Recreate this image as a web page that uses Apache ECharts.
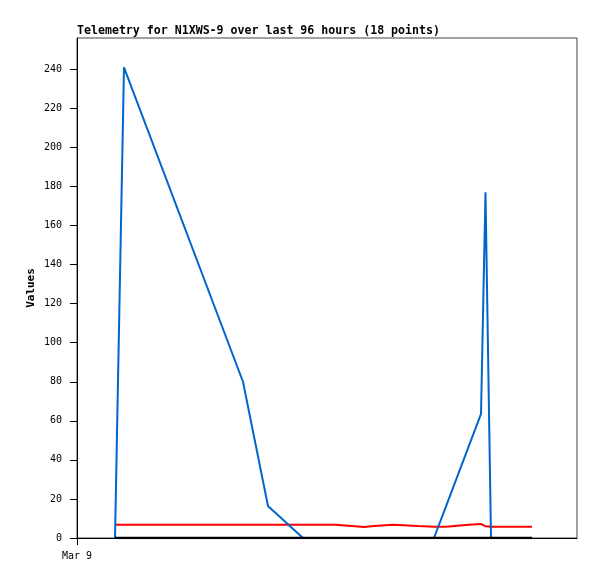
<!DOCTYPE html>
<html>
<head>
<meta charset="utf-8">
<script src="https://cdn.jsdelivr.net/npm/echarts@6/dist/echarts.min.js"></script>
<style>html,body{margin:0;padding:0;background:#fff;}#c{width:597px;height:579px;}</style>
</head>
<body>
<div id="c"></div>
<script>
// Hours since Mar 9 00:00
var hours = [7.30, 9.02, 31.87, 36.67, 43.39, 49.54, 52.80, 55.10, 57.02, 60.67, 65.47, 68.54, 70.85, 75.26, 77.57, 78.43, 79.49, 87.36];
var blueValues = [0, 241, 80, 16.4, 0, 0, 0, 0, 0, 0, 0, 0, 16.2, 47.3, 63.5, 177, 0, 0];
var redValues = [6.8, 6.8, 6.8, 6.8, 6.8, 6.8, 6.1, 5.6, 6.1, 6.8, 6.1, 5.8, 5.8, 6.8, 7.2, 6.0, 5.8, 5.8];
var blackValues = [0, 0, 0, 0, 0, 0, 0, 0, 0, 0, 0, 0, 0, 0, 0, 0, 0, 0];
var yTicks = [0, 20, 40, 60, 80, 100, 120, 140, 160, 180, 200, 220, 240];
var xTickLabels = ['Mar 9'];
var xTickHours = [0];

function pairs(vals) { return hours.map(function (h, i) { return [h, vals[i]]; }); }

var chart = echarts.init(document.getElementById('c'), null, {renderer: 'canvas'});
var mono = 'DejaVu Sans Mono';
chart.setOption({
  backgroundColor: '#ffffff',
  animation: false,
  title: {
    text: 'Telemetry for N1XWS-9 over last 96 hours (18 points)',
    left: 77, top: 25, padding: 0,
    textStyle: {fontFamily: mono, fontWeight: 'bold', fontSize: 11.6, color: '#000'}
  },
  grid: {left: 77, right: 20, top: 38, bottom: 41, show: true, borderColor: '#444', borderWidth: 1, backgroundColor: 'transparent'},
  xAxis: {
    type: 'value', min: 0, max: 96,
    axisLine: {show: true, lineStyle: {color: '#000', width: 1}},
    axisTick: {show: true, length: 7, lineStyle: {color: '#000'}, customValues: xTickHours},
    axisLabel: {show: true, customValues: xTickHours, margin: 13, fontFamily: mono, fontSize: 10, color: '#000',
      formatter: function (v) { var i = xTickHours.indexOf(v); return i >= 0 ? xTickLabels[i] : ''; }},
    splitLine: {show: false}
  },
  yAxis: {
    type: 'value', min: 0, max: 256,
    name: 'Values', nameLocation: 'middle', nameRotate: 90, nameGap: 40, nameMoveOverlap: false,
    nameTextStyle: {fontFamily: mono, fontWeight: 'bold', fontSize: 11, color: '#000'},
    axisLine: {show: true, lineStyle: {color: '#000', width: 1}},
    axisTick: {show: true, length: 7, lineStyle: {color: '#000'}, customValues: yTicks},
    axisLabel: {show: true, customValues: yTicks, margin: 15, fontFamily: mono, fontSize: 10, color: '#000'},
    splitLine: {show: false}
  },
  series: [
    {type: 'line', data: pairs(redValues), showSymbol: false, lineStyle: {color: '#ff0000', width: 2}, z: 2},
    {type: 'line', data: pairs(blueValues), showSymbol: false, lineStyle: {color: '#0066cc', width: 2}, z: 3},
    {type: 'line', data: pairs(blackValues), showSymbol: false, lineStyle: {color: '#000000', width: 2.5}, z: 4}
  ]
});
</script>
</body>
</html>
